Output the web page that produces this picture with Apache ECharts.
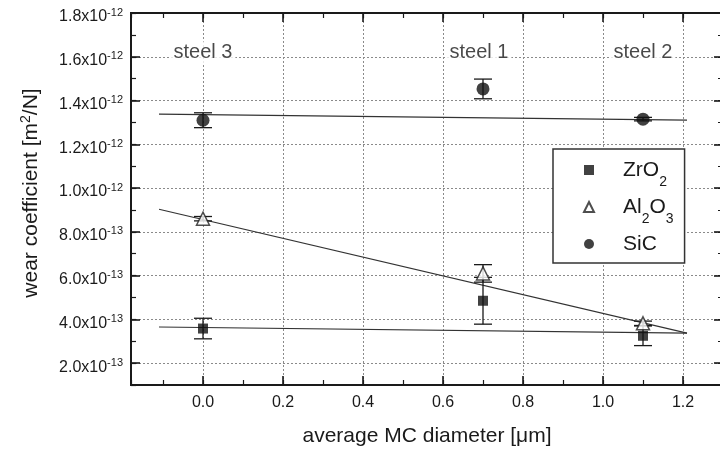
<!DOCTYPE html>
<html>
<head>
<meta charset="utf-8">
<script src="https://cdn.jsdelivr.net/npm/echarts@6/dist/echarts.min.js"></script>
<style>
  html, body { margin: 0; padding: 0; background: #fff; }
  #chart { width: 720px; height: 451px; }
</style>
</head>
<body>
<div id="chart"></div>
<script>
  // x: average MC diameter [um], y: wear coefficient in units of 1e-13 m^2/N
  var xPos = [0.0, 0.7, 1.1]
  var steelNames = ['steel 3', 'steel 1', 'steel 2']
  var steelLabelX = [0.0, 0.69, 1.1]
  var steelLabelY = 16.2

  var zrO2 = [3.58, 4.85, 3.25]
  var zrO2Err = [0.47, 1.07, 0.45]
  var al2O3 = [8.6, 6.1, 3.82]
  var al2O3Err = [0.1, 0.4, 0.1]
  var siC = [13.1, 14.53, 13.15]
  var siCErr = [0.34, 0.45, 0.08]

  // linear fits, start and end points
  var fitX = [-0.11, 1.21]
  var zrO2Fit = [3.65, 3.37]
  var al2O3Fit = [9.03, 3.37]
  var siCFit = [13.38, 13.1]

  var xTicks = [0.0, 0.2, 0.4, 0.6, 0.8, 1.0, 1.2]
  var yTicks = [2, 4, 6, 8, 10, 12, 14, 16, 18]

  var font = "'Liberation Sans', Arial, sans-serif"
  var ink = '#1a1a1a'

  function hasTick(list, v) {
    for (var i = 0; i < list.length; i++) {
      if (Math.abs(list[i] - v) < 1e-6) return true
    }
    return false
  }

  function xLabel(v) {
    return hasTick(xTicks, v) ? v.toFixed(1) : ''
  }

  function yLabel(v) {
    if (!hasTick(yTicks, v)) return ''
    var exp = v >= 10 ? -12 : -13
    var m = v >= 10 ? v / 10 : v
    return '{m|' + m.toFixed(1) + 'x10}{e|' + exp + '}'
  }

  var frameLine = { show: true, onZero: false, lineStyle: { color: ink, width: 2 } }

  function xAxisDef(pos, major) {
    var a = {
      type: 'value',
      position: pos,
      min: -0.18,
      max: 1.3,
      minInterval: major ? 0.2 : 0.1,
      maxInterval: major ? 0.2 : 0.1,
      axisLine: frameLine,
      axisTick: { inside: true, length: major ? 9 : 5, lineStyle: { color: ink, width: major ? 1.6 : 1.2 } },
      axisLabel: { show: false },
      splitLine: { show: false }
    }
    if (major && pos === 'bottom') {
      a.axisLabel = { show: true, formatter: xLabel, fontSize: 16, color: ink, fontFamily: font, margin: 10 }
      a.splitLine = { show: true, lineStyle: { type: [2, 2], color: '#8a8a8a', width: 1 } }
      a.name = 'average MC diameter [\u03bcm]'
      a.nameLocation = 'middle'
      a.nameGap = 41
      a.nameMoveOverlap = false
      a.nameTextStyle = { fontSize: 21, color: ink, fontFamily: font }
    }
    return a
  }

  function yAxisDef(pos, major) {
    var a = {
      type: 'value',
      position: pos,
      min: 1,
      max: 18,
      axisLine: frameLine,
      axisTick: { inside: true, length: major ? 9 : 5, lineStyle: { color: ink, width: major ? 1.6 : 1.2 } },
      axisLabel: { show: false },
      splitLine: { show: false }
    }
    if (major) {
      a.minInterval = 2
      a.maxInterval = 2
    } else {
      a.interval = 1
    }
    if (major && pos === 'left') {
      a.axisLabel = {
        show: true, formatter: yLabel, margin: 8,
        rich: {
          m: { fontSize: 16, lineHeight: 16, padding: [8, 0, 0, 0], color: ink, fontFamily: font },
          e: { fontSize: 11, lineHeight: 12, padding: [2, 0, 0, 0], verticalAlign: 'top', color: ink, fontFamily: font }
        }
      }
      a.splitLine = { show: true, lineStyle: { type: [2, 2], color: '#8a8a8a', width: 1 } }
      a.name = '{n|wear coefficient [m}{p|2}{n|/N]}'
      a.nameLocation = 'middle'
      a.nameGap = 88
      a.nameMoveOverlap = false
      a.nameTextStyle = {
        padding: [0, 0, 0, 12],
        rich: {
          n: { fontSize: 21, lineHeight: 24, color: ink, fontFamily: font },
          p: { fontSize: 14, lineHeight: 14, verticalAlign: 'top', color: ink, fontFamily: font }
        }
      }
    }
    return a
  }

  function pairs(xs, ys) {
    return xs.map(function (x, i) { return [x, ys[i]] })
  }

  function fitSeries(name, ys) {
    return {
      name: name, type: 'line', data: pairs(fitX, ys),
      symbol: 'none', silent: true, z: 2,
      lineStyle: { color: '#333', width: 1.2 }
    }
  }

  function errSeries(name, vals, errs) {
    return {
      name: name, type: 'custom', z: 3, silent: true,
      data: xPos.map(function (x, i) { return [x, vals[i] - errs[i], vals[i] + errs[i]] }),
      encode: { x: 0, y: [1, 2] },
      renderItem: function (params, api) {
        var lo = api.coord([api.value(0), api.value(1)])
        var hi = api.coord([api.value(0), api.value(2)])
        var w = 9
        var st = { stroke: ink, lineWidth: 1.3 }
        return {
          type: 'group',
          children: [
            { type: 'line', shape: { x1: hi[0], y1: hi[1], x2: lo[0], y2: lo[1] }, style: st },
            { type: 'line', shape: { x1: hi[0] - w, y1: hi[1], x2: hi[0] + w, y2: hi[1] }, style: st },
            { type: 'line', shape: { x1: lo[0] - w, y1: lo[1], x2: lo[0] + w, y2: lo[1] }, style: st }
          ]
        }
      }
    }
  }

  var legendText = {
    'ZrO2': '{f|ZrO}{s|2}',
    'Al2O3': '{f|Al}{s|2}{n|O}{s|3}',
    'SiC': '{f|SiC}{s| }'
  }

  var chart = echarts.init(document.getElementById('chart'))
  chart.setOption({
    animation: false,
    backgroundColor: '#fff',
    textStyle: { fontFamily: font },
    grid: { left: 131, top: 13, right: -3, bottom: 66, outerBoundsMode: 'none', containLabel: false },
    xAxis: [xAxisDef('bottom', true), xAxisDef('bottom', false), xAxisDef('top', true), xAxisDef('top', false)],
    yAxis: [yAxisDef('left', true), yAxisDef('left', false), yAxisDef('right', true), yAxisDef('right', false)],
    legend: {
      orient: 'vertical',
      left: 553,
      top: 149,
      data: ['ZrO2', 'Al2O3', 'SiC'],
      backgroundColor: '#fff',
      borderColor: '#333',
      borderWidth: 1.5,
      borderRadius: 0,
      padding: [2, 11, 0, 30],
      itemWidth: 10,
      itemHeight: 10,
      itemGap: -1,
      selectedMode: false,
      formatter: function (name) { return legendText[name] },
      textStyle: {
        rich: {
          f: { fontSize: 21, lineHeight: 38, color: ink, fontFamily: font, padding: [0, 0, 0, 24] },
          n: { fontSize: 21, lineHeight: 38, color: ink, fontFamily: font },
          s: { fontSize: 14, lineHeight: 14, padding: [24, 0, 0, 0], color: ink, fontFamily: font }
        }
      }
    },
    series: [
      fitSeries('ZrO2 fit', zrO2Fit),
      fitSeries('Al2O3 fit', al2O3Fit),
      fitSeries('SiC fit', siCFit),
      errSeries('ZrO2 err', zrO2, zrO2Err),
      errSeries('Al2O3 err', al2O3, al2O3Err),
      errSeries('SiC err', siC, siCErr),
      {
        name: 'ZrO2', type: 'scatter', z: 4, data: pairs(xPos, zrO2),
        symbol: 'rect', symbolSize: 10, itemStyle: { color: '#111' }
      },
      {
        name: 'Al2O3', type: 'scatter', z: 4, data: pairs(xPos, al2O3),
        symbol: 'triangle', symbolSize: 13,
        itemStyle: { color: '#fff', borderColor: '#222', borderWidth: 1.5 }
      },
      {
        name: 'SiC', type: 'scatter', z: 4, data: pairs(xPos, siC),
        symbol: 'circle', symbolSize: 13, itemStyle: { color: '#111' }
      },
      {
        name: 'steels', type: 'scatter', z: 5, silent: true,
        symbolSize: 0,
        data: steelNames.map(function (n, i) { return { name: n, value: [steelLabelX[i], steelLabelY] } }),
        label: {
          show: true, position: 'inside', formatter: '{b}',
          fontSize: 20, color: ink, fontFamily: font,
          backgroundColor: '#fff', padding: [1, 3]
        }
      }
    ]
  })
</script>
</body>
</html>
